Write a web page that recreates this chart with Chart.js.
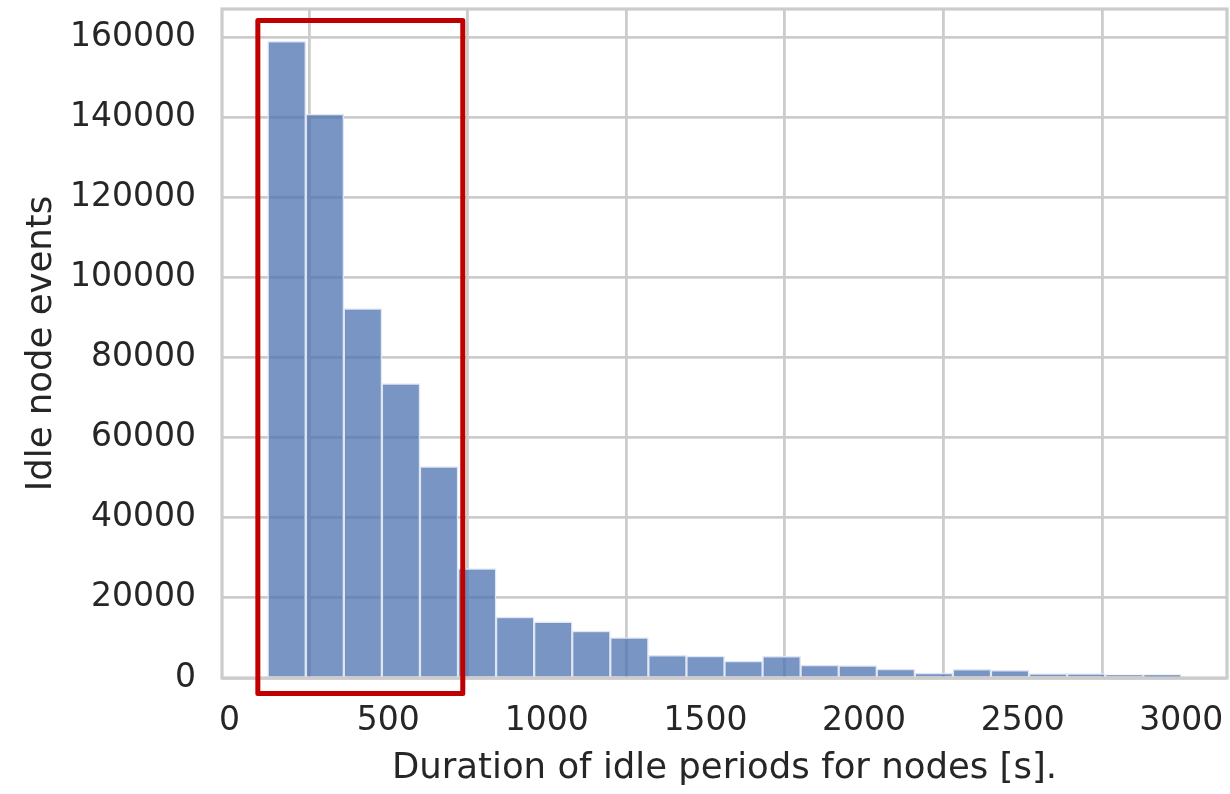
<!DOCTYPE html>
<html>
<head>
<meta charset="utf-8">
<script src="https://cdn.jsdelivr.net/npm/chart.js@4/dist/chart.umd.min.js"></script>
<style>
  body { margin: 0; background: #fff; }
</style>
</head>
<body>
<canvas id="chart" width="1230" height="794"></canvas>
<script>
// bin centres (bins are 120 s wide, from 120 to 3000)
const binCenters = [180, 300, 420, 540, 660, 780, 900, 1020, 1140, 1260, 1380, 1500,
                    1620, 1740, 1860, 1980, 2100, 2220, 2340, 2460, 2580, 2700, 2820, 2940];
const idleCounts = [158900, 140800, 92200, 73500, 52800, 27300, 15200, 14050, 11700, 10100, 5650, 5500,
                    4250, 5400, 3250, 3100, 2200, 1250, 2150, 1900, 1100, 1100, 800, 850];
const xTicks = [0, 500, 1000, 1500, 2000, 2500, 3000];
const yTicks = [0, 20000, 40000, 60000, 80000, 100000, 120000, 140000, 160000];
// highlighted region (data units)
const boxX = [89, 735];
const boxY = [-3900, 164100];

const textColor = '#262626';
const gridColor = '#cccccc';

// no extra room for edge labels, the layout is fixed
function noPad(s) {
  s.paddingTop = 0; s.paddingBottom = 0; s.paddingLeft = 0; s.paddingRight = 0;
}

const framePlugin = {
  id: 'frame',
  afterDatasetsDraw(chart) {
    const {ctx, chartArea: a} = chart;
    ctx.save();
    ctx.strokeStyle = gridColor;
    ctx.lineWidth = 3.2;
    ctx.strokeRect(a.left, a.top, a.right - a.left, a.bottom - a.top);
    ctx.restore();
  },
  afterDraw(chart) {
    const {ctx, scales: {x, y}} = chart;
    const l = x.getPixelForValue(boxX[0]), r = x.getPixelForValue(boxX[1]);
    const t = y.getPixelForValue(boxY[1]), b = y.getPixelForValue(boxY[0]);
    ctx.save();
    ctx.strokeStyle = '#c00000';
    ctx.lineWidth = 5;
    ctx.lineJoin = 'round';
    ctx.strokeRect(l, t, r - l, b - t);
    ctx.restore();
  }
};

const myChart = document.getElementById('chart').getContext('2d');
new Chart(myChart, {
  type: 'bar',
  data: {
    datasets: [{
      data: binCenters.map((c, i) => ({x: c, y: idleCounts[i]})),
      backgroundColor: 'rgba(76,114,176,0.75)',
      borderColor: 'rgba(222,230,243,0.95)',
      borderWidth: 1.5,
      barPercentage: 1,
      categoryPercentage: 1,
    }]
  },
  options: {
    responsive: false,
    animation: false,
    layout: { padding: { left: 0, top: 9, right: 3, bottom: 0 } },
    plugins: {
      legend: { display: false },
      tooltip: { enabled: false },
    },
    scales: {
      x: {
        type: 'linear',
        offset: false,
        min: -24,
        max: 3144,
        afterBuildTicks: s => { s.ticks = xTicks.map(v => ({value: v})); },
        afterFit: s => { s.height = 116; noPad(s); },
        grid: { color: gridColor, lineWidth: 2.8, drawTicks: false },
        border: { display: false },
        ticks: {
          padding: 24,
          color: textColor,
          maxRotation: 0,
          font: { family: 'DejaVu Sans', size: 33 },
          callback: v => String(v),
        },
        title: {
          display: true,
          text: 'Duration of idle periods for nodes [s].',
          color: textColor,
          padding: { top: 0, bottom: 4 },
          font: { family: 'DejaVu Sans', size: 35.5 },
        }
      },
      y: {
        min: 0,
        max: 167000,
        afterBuildTicks: s => { s.ticks = yTicks.map(v => ({value: v})); },
        afterFit: s => { s.width = 222; noPad(s); },
        grid: { color: gridColor, lineWidth: 2.8, drawTicks: false },
        border: { display: false },
        ticks: {
          padding: 26,
          color: textColor,
          font: { family: 'DejaVu Sans', size: 33 },
          callback: v => String(v),
        },
        title: {
          display: true,
          text: 'Idle node events',
          color: textColor,
          padding: { top: 20, bottom: 0 },
          font: { family: 'DejaVu Sans', size: 35.5 },
        }
      }
    }
  },
  plugins: [framePlugin]
});
</script>
</body>
</html>
